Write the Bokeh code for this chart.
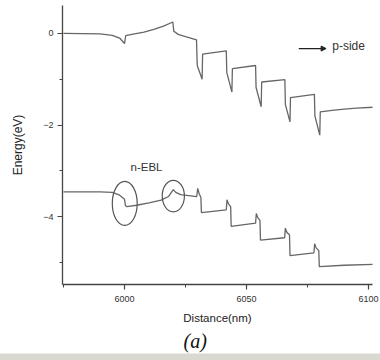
from bokeh.plotting import figure
from bokeh.layouts import column
from bokeh.models import (Range1d, SingleIntervalTicker, Label, Arrow, NormalHead,
                          Title, Div)
from bokeh.embed import file_html
from bokeh.resources import INLINE

# Conduction band (upper curve)
cb_x = [5975, 5990, 5995, 5998, 6000, 6000.5, 6003, 6008, 6012, 6016, 6019.8, 6020.2,
        6022, 6025, 6029.5, 6029.8, 6031.8, 6032, 6041.7, 6041.9, 6044, 6044.2,
        6053.7, 6053.9, 6056, 6056.2, 6065.7, 6065.9, 6067.8, 6068, 6077.8, 6078,
        6080, 6080.2, 6085, 6090, 6095, 6102]
cb_y = [0.0, -0.01, -0.04, -0.10, -0.22, -0.05, -0.02, 0.03, 0.09, 0.16, 0.25, 0.05,
        -0.02, -0.07, -0.14, -0.70, -1.00, -0.45, -0.38, -0.85, -1.28, -0.77,
        -0.70, -1.18, -1.60, -1.06, -1.01, -1.55, -1.93, -1.40, -1.33, -1.80,
        -2.22, -1.71, -1.68, -1.65, -1.63, -1.61]

# Valence band (lower curve)
vb_x = [5975, 5990, 5995, 5998, 6000, 6000.4, 6001, 6005, 6010, 6015, 6018, 6020,
        6021, 6023, 6029.6, 6030, 6030.6, 6031.3, 6031.5, 6041.7, 6042, 6042.6,
        6043.5, 6043.7, 6053.7, 6054, 6054.6, 6055.5, 6055.7, 6065.6, 6065.9,
        6066.5, 6067.6, 6067.8, 6077.6, 6077.9, 6078.5, 6079.6, 6079.8, 6090, 6102]
vb_y = [-3.46, -3.46, -3.47, -3.53, -3.62, -3.76, -3.78, -3.75, -3.70, -3.64, -3.56, -3.41,
        -3.47, -3.52, -3.56, -3.38, -3.50, -3.58, -3.91, -3.85, -3.63, -3.72,
        -3.78, -4.21, -4.14, -3.93, -4.02, -4.08, -4.51, -4.46, -4.25,
        -4.34, -4.40, -4.85, -4.79, -4.59, -4.68, -4.74, -5.09, -5.06, -5.04]

# n-EBL markers (ellipses)
ell_x = [6000.1, 6020.0]
ell_y = [-3.71, -3.55]
ell_w = [10.2, 9.1]
ell_h = [0.96, 0.69]

x_label = "Distance(nm)"
y_label = "Energy(eV)"
caption = "(a)"

p = figure(width=380, height=353, output_backend="svg", toolbar_location=None,
           x_range=Range1d(5974.6, 6101.6), y_range=Range1d(-5.48, 0.61),
           min_border_left=62, min_border_right=8, min_border_top=5, min_border_bottom=68)
p.grid.visible = False
p.outline_line_color = None
p.background_fill_color = "white"
p.border_fill_color = "white"

axcol = "#444444"
p.xaxis.ticker = SingleIntervalTicker(interval=50, num_minor_ticks=2)
p.yaxis.ticker = SingleIntervalTicker(interval=2, num_minor_ticks=2)
for ax in (p.xaxis[0], p.yaxis[0]):
    ax.axis_line_color = axcol
    ax.axis_line_width = 1.3
    ax.major_tick_line_color = axcol
    ax.minor_tick_line_color = axcol
    ax.major_tick_line_width = 1.2
    ax.major_tick_in = 0
    ax.major_tick_out = 5
    ax.minor_tick_in = 0
    ax.minor_tick_out = 3
    ax.major_label_text_font = "Liberation Sans"
    ax.major_label_text_font_size = "9px"
    ax.major_label_text_color = "#333333"
    ax.axis_label_text_font = "Liberation Sans"
    ax.axis_label_text_font_style = "normal"
    ax.axis_label_text_color = "#222222"

p.xaxis.axis_label = x_label
p.xaxis.axis_label_text_font_size = "11.5px"
p.xaxis.major_label_standoff = 6
p.xaxis.axis_label_standoff = 7
p.yaxis.axis_label = y_label
p.yaxis.axis_label_text_font_size = "12px"
p.yaxis.major_label_standoff = 4
p.yaxis.axis_label_standoff = 15

curve_col = "#666666"
p.line(cb_x, cb_y, line_color=curve_col, line_width=1.3)
p.line(vb_x, vb_y, line_color=curve_col, line_width=1.3)

p.ellipse(x=ell_x, y=ell_y, width=ell_w, height=ell_h, fill_color=None,
          line_color="#555555", line_width=1.2)

p.add_layout(Label(x=6009.0, y=-2.91, text="n-EBL", text_font="Liberation Sans",
                   text_font_size="11.5px", text_align="center", text_baseline="middle",
                   text_color="#333333"))
p.add_layout(Arrow(x_start=6071.4, y_start=-0.33, x_end=6082.6, y_end=-0.33,
                   line_color="#222222", line_width=1.2,
                   end=NormalHead(size=5, fill_color="#222222", line_color="#222222")))
p.add_layout(Label(x=6085.1, y=-0.28, text="p-side", text_font="Liberation Sans",
                   text_font_size="12px", text_align="left", text_baseline="middle",
                   text_color="#333333"))

p.add_layout(Title(text=caption, text_font="Liberation Serif", text_font_style="italic",
                   text_font_size="20px", align="left", offset=121, text_color="#111111",
                   standoff=3), "below")

band = Div(text="", width=380, height=7, margin=(0, 0, 0, 0),
           styles={"background-color": "#d9d9d2", "border-top": "1px solid #ecece6"})

layout = column(p, band, spacing=0, margin=(0, 0, 0, 0))

open("out.html", "w").write(file_html(layout, INLINE))
